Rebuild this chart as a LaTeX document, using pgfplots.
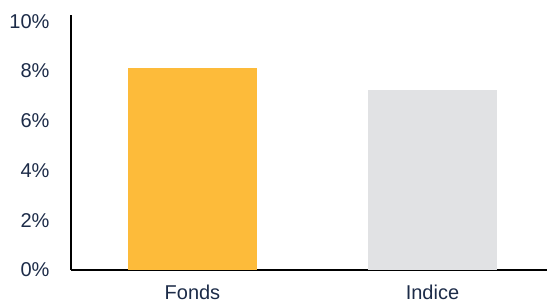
\documentclass[border=0pt]{standalone}
\usepackage{pgfplots}
\pgfplotsset{compat=1.18}
\usepackage{fontspec}
\setmainfont{Liberation Sans}
\definecolor{txt}{HTML}{1C2B48}
\definecolor{fondsc}{HTML}{FDBB3A}
\definecolor{indc}{HTML}{E1E2E4}
\begin{document}
\begin{tikzpicture}
\begin{axis}[
  name=ax,
  scale only axis,
  width=476pt, height=255pt,
  xmin=-0.506, xmax=1.477,
  ymin=0, ymax=10.25,
  axis x line*=bottom, axis y line*=left,
  axis line style={-, line width=2pt, black},
  xtick={0,1}, xticklabels={Fonds,Indice},
  ytick={0,2,4,6,8,10},
  major tick length=0pt,
  tick style={draw=none},
  /pgf/number format/assume math mode=true,
  yticklabel={\pgfmathprintnumber{\tick}\%},
  ticklabel style={font=\fontsize{20}{24}\selectfont, text=txt},
  yticklabel style={xshift=-18pt},
  xticklabel style={yshift=-11pt},
  ybar, bar width=129pt,
]
\addplot[fill=fondsc, draw=none, bar shift=0pt] coordinates {(0,8.12)};
\addplot[fill=indc, draw=none, bar shift=0pt] coordinates {(1,7.24)};
\end{axis}
\pgfresetboundingbox
\path (ax.south west) ++(-71pt,-32pt) rectangle ++(547pt,302pt);
\end{tikzpicture}
\end{document}
